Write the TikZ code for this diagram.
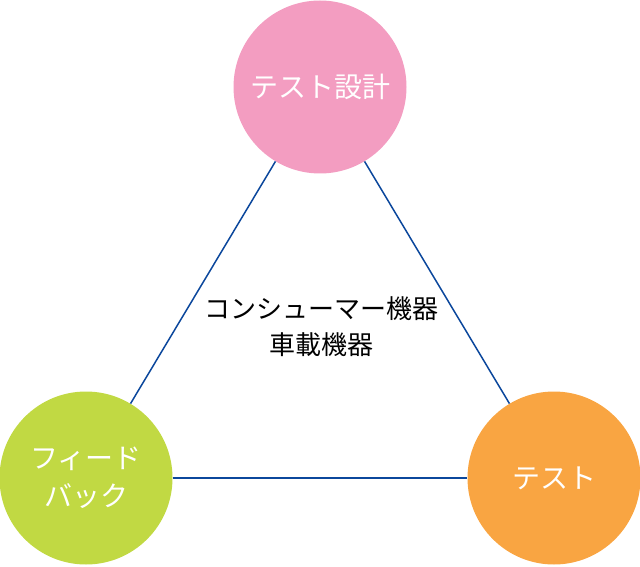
\documentclass[tikz,border=0pt]{standalone}
\usepackage{fontspec}
\setmainfont{Noto Sans CJK JP}
\usetikzlibrary{positioning,shapes}
\definecolor{pinkc}{HTML}{F39DC1}
\definecolor{greenc}{HTML}{C1D943}
\definecolor{orangec}{HTML}{F9A542}
\definecolor{linec}{HTML}{0B479C}
\tikzset{
	every node/.style = {inner sep = 0},
	every text node part/.style={align=center},
	phase/.style={circle, minimum size=173pt, text=white, font=\fontsize{28}{38}\selectfont},
	link/.style={draw=linec, line width=1.5pt}
}

\begin{document}
\begin{tikzpicture}[x=1pt, y=1pt]
		\useasboundingbox (0,0) rectangle (640,566);
		\node(design)[phase, fill=pinkc] at (320,479) {テスト設計};
		\node(feedback)[phase, fill=greenc] at (86,88) {フィード\\バック};
		\node(test)[phase, fill=orangec] at (554,88) {テスト};
		\node(target)[font=\fontsize{26}{36}\selectfont] at (321,239) {コンシューマー機器\\車載機器};
		
		\path[link] (design) -- (feedback);
		\path[link] (design) -- (test);
		\path[link] (feedback) -- (test);
		\end{tikzpicture}
\end{document}
